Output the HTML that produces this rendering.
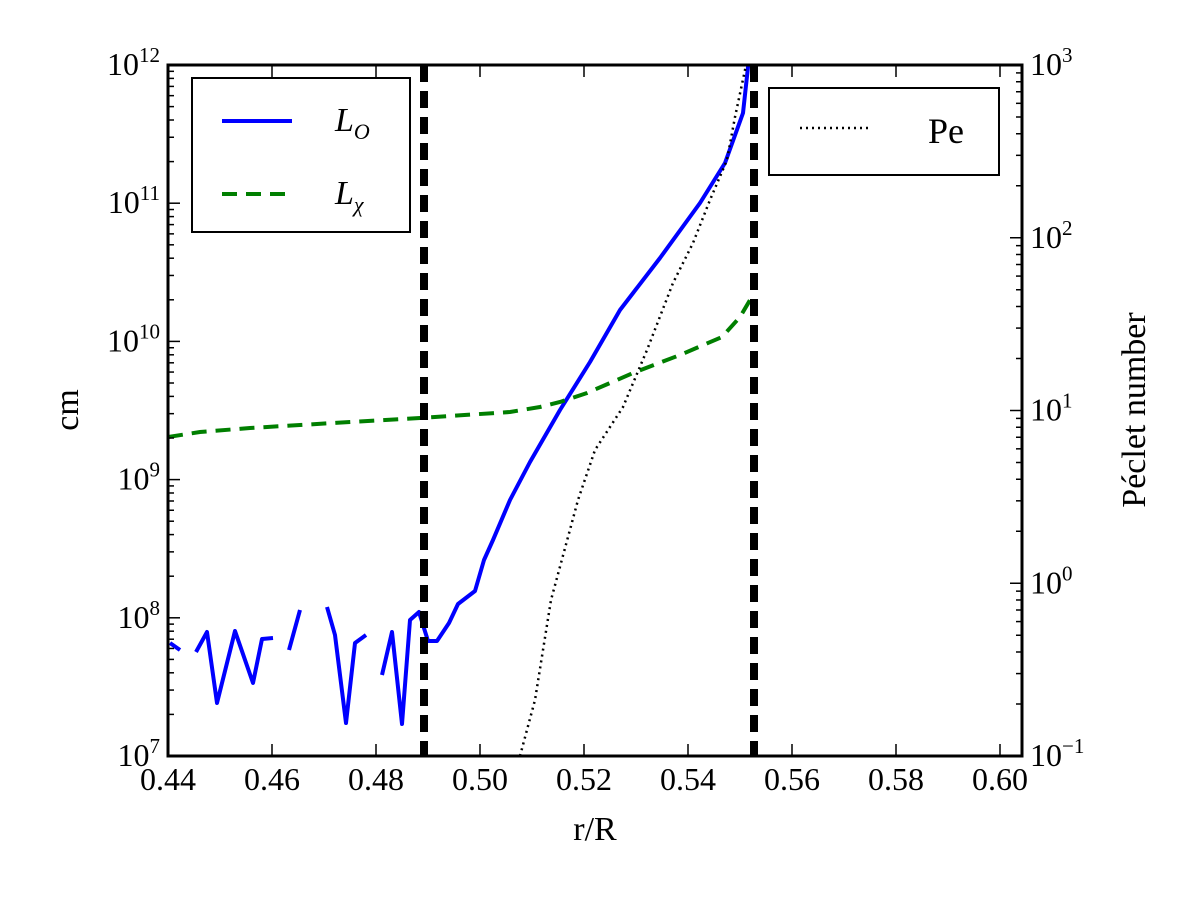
<!DOCTYPE html>
<html><head><meta charset="utf-8"><style>body{margin:0;background:#fff}svg{display:block}text{font-family:"Liberation Serif",serif;fill:#000}</style></head><body>
<svg width="1200" height="900" viewBox="0 0 1200 900" xmlns="http://www.w3.org/2000/svg">
<defs><clipPath id="c"><rect x="168" y="65" width="854" height="691"/></clipPath></defs>
<g clip-path="url(#c)">
<g fill="none" stroke="#0000ff" stroke-width="4" stroke-linejoin="round">
<polyline points="170,643 180,650"/>
<polyline points="196,652 207,632 217,703 235,631 253,683 262,639 273,638"/>
<polyline points="289,650 300,610"/>
<polyline points="327,607 335,635 346,723 355,643 366,635"/>
<polyline points="382,675 392,632 402,724 410,620 419,612 428,641 437,641 449,623 458,604 475,591 484,560 493,540 510,500 530,462 560,410 590,362 620,310 660,258 700,203 725,163 743,113 748,67 749,60"/>
</g>
<polyline fill="none" stroke="#007f00" stroke-width="4" stroke-dasharray="15,9" points="168,437 200,432 250,428 300,425 350,422 420,418 510,412 540,407 560,402 587,393 633,373 680,355 722,337 740,317 753,295"/>
<polyline fill="none" stroke="#000" stroke-width="2.5" stroke-dasharray="2,4" points="520,756 535,700 551,600 578,500 595,450 623,407 647,350 673,283 693,243 710,200 727,160 735,117 745,70 747,60"/>
<line x1="424" y1="65" x2="424" y2="756" stroke="#000" stroke-width="8" stroke-dasharray="17,9"/>
<line x1="754" y1="65" x2="754" y2="756" stroke="#000" stroke-width="8" stroke-dasharray="17,9"/>
</g>
<rect x="168" y="65" width="854" height="691" fill="none" stroke="#000" stroke-width="3"/>
<g stroke="#000" stroke-width="1.5" id="ticks"></g>
<g font-size="32" id="labs"></g>
<rect x="192" y="78" width="218" height="154" fill="#fff" stroke="#000" stroke-width="2"/>
<line x1="222" y1="121" x2="292" y2="121" stroke="#0000ff" stroke-width="4"/>
<line x1="222" y1="194" x2="292" y2="194" stroke="#007f00" stroke-width="4" stroke-dasharray="15,9"/>
<text x="335" y="131" font-size="34" font-style="italic">L<tspan font-size="22" dy="8">O</tspan></text>
<text x="335" y="204" font-size="34" font-style="italic">L<tspan font-size="22" dy="8">χ</tspan></text>
<rect x="769" y="88" width="230" height="87" fill="#fff" stroke="#000" stroke-width="2"/>
<line x1="800" y1="128" x2="872" y2="128" stroke="#000" stroke-width="2.5" stroke-dasharray="2,4"/>
<text x="928" y="143" font-size="36">Pe</text>
<text x="595" y="840" font-size="34" text-anchor="middle">r/R</text>
<text transform="translate(78,410) rotate(-90)" font-size="34" text-anchor="middle">cm</text>
<text transform="translate(1145,410) rotate(-90)" font-size="34" text-anchor="middle">Péclet number</text>
</svg>
<script>
var t=document.getElementById('ticks'),l=document.getElementById('labs'),ns='http://www.w3.org/2000/svg';
function ln(a,b,c,d){var e=document.createElementNS(ns,'line');e.setAttribute('x1',a);e.setAttribute('y1',b);e.setAttribute('x2',c);e.setAttribute('y2',d);t.appendChild(e);}
function tx(x,y,s,anc,sup){var e=document.createElementNS(ns,'text');e.setAttribute('x',x);e.setAttribute('y',y);e.setAttribute('text-anchor',anc);e.innerHTML=s+(sup!==undefined?'<tspan font-size="21" dy="-13">'+sup+'</tspan>':'');l.appendChild(e);}
for(var i=0;i<9;i++){var x=168+i*104;ln(x,756,x,744);ln(x,65,x,77);tx(x,790,(0.44+i*0.02).toFixed(2),'middle');}
for(var d=0;d<=5;d++){var y=756-d*138.2;ln(168,y,180,y);tx(160,y+10,'10','end',7+d);if(d<5)for(var m=2;m<10;m++){var yy=y-Math.log10(m)*138.2;ln(168,yy,174,yy);}}
for(var d=0;d<=4;d++){var y=756-d*172.75;ln(1022,y,1010,y);var e=d-1;tx(1030,y+10,'10','start',e<0?'−1':e);if(d<4)for(var m=2;m<10;m++){var yy=y-Math.log10(m)*172.75;ln(1022,yy,1016,yy);}}
</script>
</body></html>
